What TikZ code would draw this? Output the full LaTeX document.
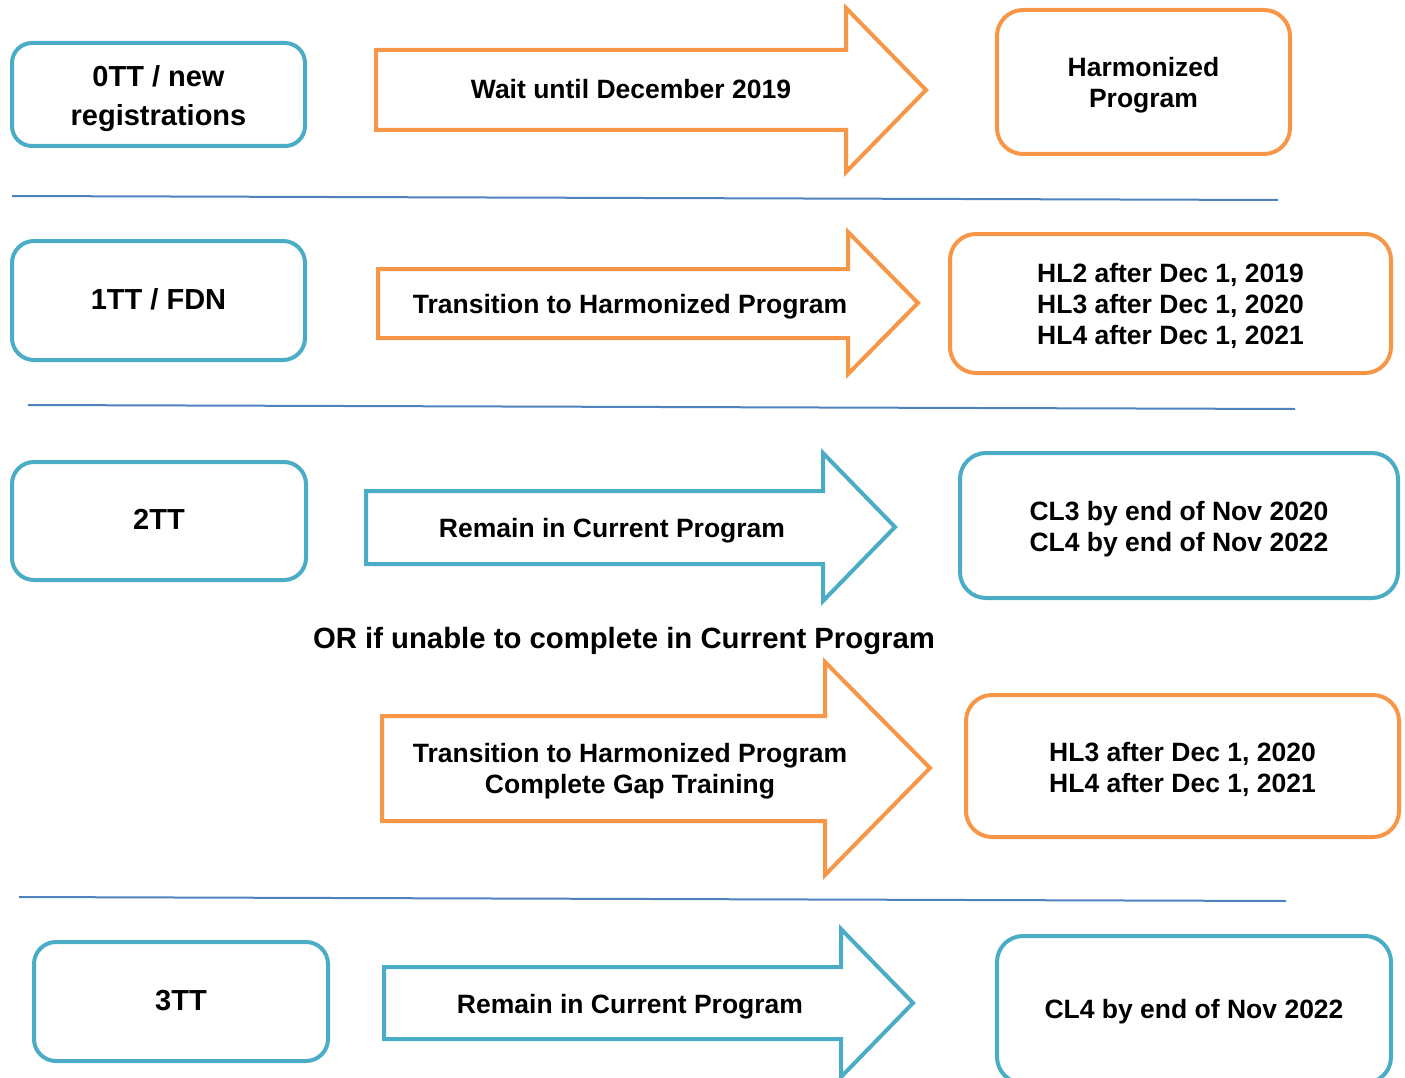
\documentclass[tikz,border=0pt]{standalone}
\usepackage{fontspec}
\setmainfont{Liberation Sans}
\definecolor{tealc}{HTML}{4BACC6}
\definecolor{orangec}{HTML}{F79646}
\definecolor{linec}{HTML}{4F81BD}
\begin{document}
\begin{tikzpicture}[x=1pt,y=-1pt,
  rbox/.style={draw,line width=4pt,rounded corners=22pt,inner sep=0pt},
  lbox/.style={rbox,draw=tealc},
  obox/.style={rbox,draw=orangec,rounded corners=26pt},
  tbox/.style={rbox,draw=tealc,rounded corners=26pt},
  oarrow/.style={draw=orangec,line width=4pt,line join=miter,fill=white},
  tarrow/.style={draw=tealc,line width=4pt,line join=miter,fill=white},
  atext/.style={inner sep=0pt,align=center,font=\bfseries\fontsize{26.5}{31}\selectfont},
  ltext/.style={inner sep=0pt,align=center,font=\bfseries\fontsize{29}{39}\selectfont},
  sep/.style={draw=linec,line width=2pt}]
\useasboundingbox (0,0) rectangle (1405,1078);
\clip (0,0) rectangle (1405,1078);
% separator lines
\coordinate (s1a) at (12,196); \coordinate (s1b) at (1278,200);
\coordinate (s2a) at (28,405); \coordinate (s2b) at (1295,409);
\coordinate (s3a) at (19,897); \coordinate (s3b) at (1286,901);
\path[sep] (s1a) -- (s1b);
\path[sep] (s2a) -- (s2b);
\path[sep] (s3a) -- (s3b);
% arrows
\path[oarrow] (376,50)--(846,50)--(846,8)--(926,90)--(846,172)--(846,130)--(376,130)--cycle;
\path[oarrow] (378,269)--(848,269)--(848,232)--(918,303)--(848,374)--(848,338)--(378,338)--cycle;
\path[tarrow] (366,491)--(823,491)--(823,453)--(895,527)--(823,601)--(823,564)--(366,564)--cycle;
\path[oarrow] (382,716)--(825,716)--(825,662)--(930,768)--(825,875)--(825,821)--(382,821)--cycle;
\path[tarrow] (384,967)--(841,967)--(841,929)--(913,1003)--(841,1077)--(841,1039)--(384,1039)--cycle;
\node[atext] (a1) at (631,89) {Wait until December 2019};
\node[atext] (a2) at (630,307) {Transition to Harmonized Program};
\node[atext] (a3) at (612,531) {Remain in Current Program};
\node[atext] (a4) at (630,771.5) {Transition to Harmonized Program\\Complete Gap Training};
\node[atext] (a5) at (630,1007) {Remain in Current Program};
% left boxes
\node[lbox,minimum width=293pt,minimum height=103pt,rounded corners=20pt] (l1) at (158.5,94.5) {};
\node[lbox,minimum width=293pt,minimum height=119pt] (l2) at (158.5,300.5) {};
\node[lbox,minimum width=294pt,minimum height=118pt] (l3) at (159,521) {};
\node[lbox,minimum width=294pt,minimum height=119pt] (l5) at (181,1001.5) {};
\node[ltext] (l1t) at (158.5,98.5) {0TT / new\\registrations};
\node[ltext] (l2t) at (158.5,299.5) {1TT / FDN};
\node[ltext] (l3t) at (159,519) {2TT};
\node[ltext] (l5t) at (181,1000.5) {3TT};
% right boxes
\node[obox,minimum width=293pt,minimum height=144pt] (r1) at (1143.5,82) {};
\node[obox,minimum width=441pt,minimum height=139pt] (r2) at (1170.5,303.5) {};
\node[tbox,minimum width=438pt,minimum height=145pt] (r3) at (1179,525.5) {};
\node[obox,minimum width=433pt,minimum height=142pt] (r4) at (1182.5,766) {};
\node[tbox,minimum width=394pt,minimum height=147pt] (r5) at (1194,1009.5) {};
\node[atext] (r1t) at (1143.5,85) {Harmonized\\Program};
\node[atext] (r2t) at (1170.5,305.5) {HL2 after Dec 1, 2019\\HL3 after Dec 1, 2020\\HL4 after Dec 1, 2021};
\node[atext] (r3t) at (1179,529.5) {CL3 by end of Nov 2020\\CL4 by end of Nov 2022};
\node[atext] (r4t) at (1182.5,769) {HL3 after Dec 1, 2020\\HL4 after Dec 1, 2021};
\node[atext] (r5t) at (1194,1011.5) {CL4 by end of Nov 2022};
% OR text
\node[inner sep=0pt,font=\bfseries\fontsize{29.3}{34}\selectfont] (or) at (624,641) {OR if unable to complete in Current Program};
\end{tikzpicture}
\end{document}
